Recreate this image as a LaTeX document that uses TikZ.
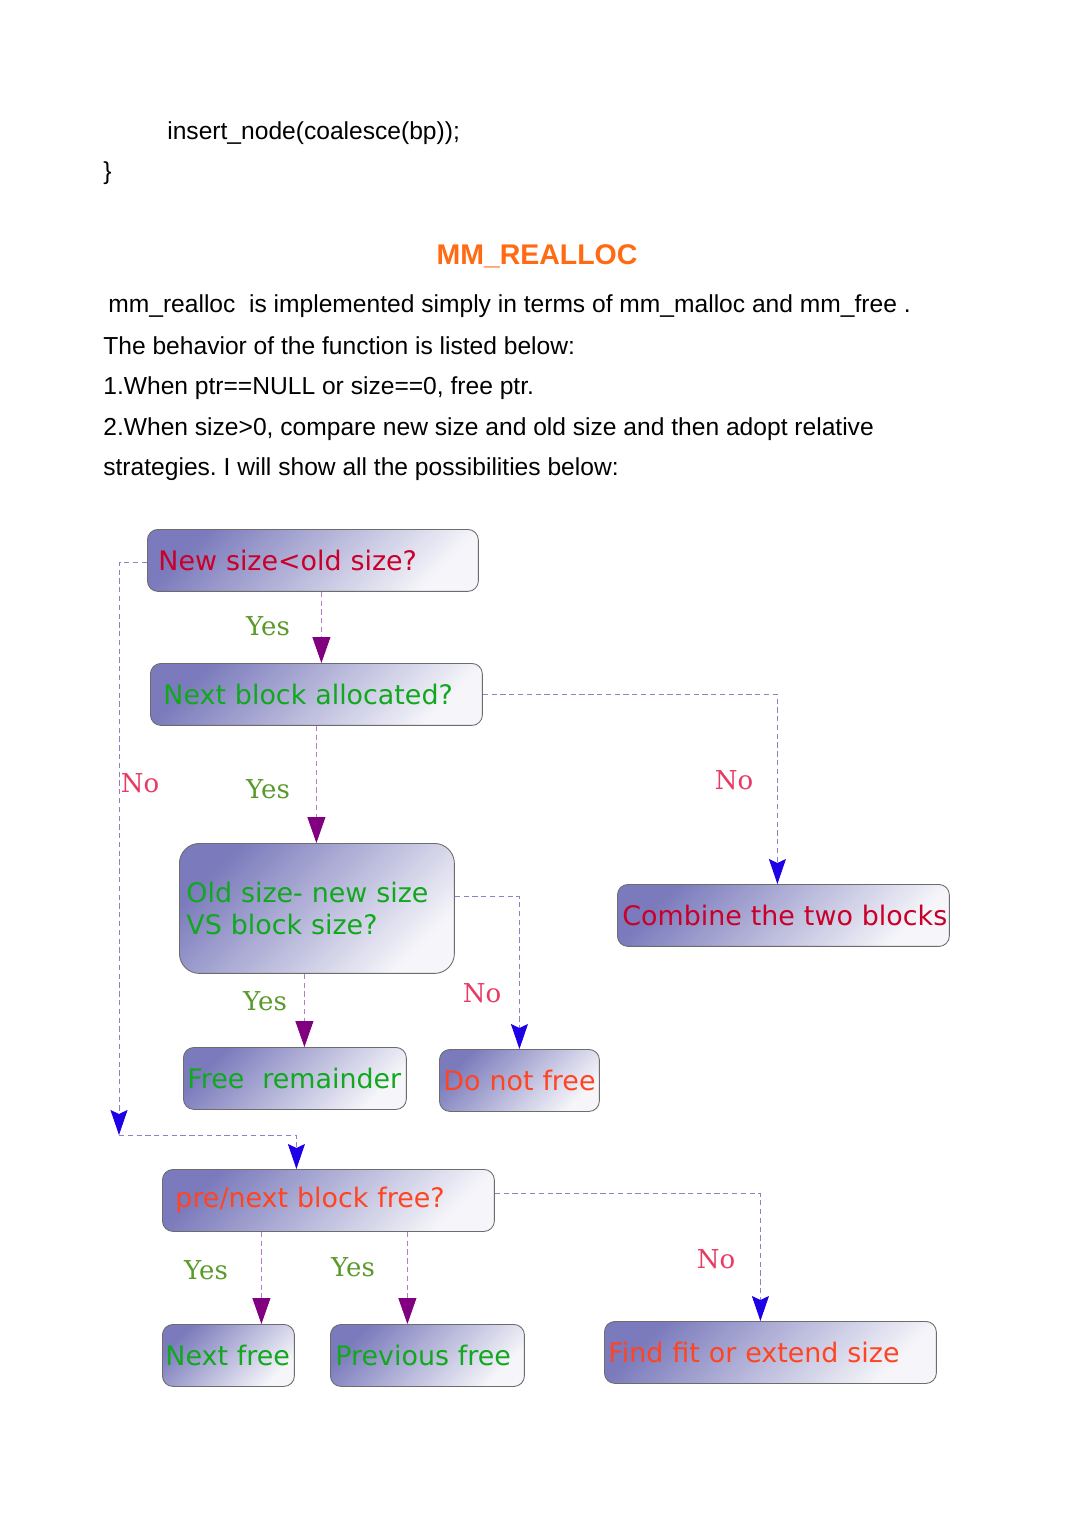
\documentclass[tikz,border=0pt]{standalone}
\usepackage{fontspec}
\setmainfont{Liberation Sans}
\newfontfamily\boxfont{DejaVu Sans}
\newfontfamily\ynfont{DejaVu Serif}
\usepackage{xcolor}
\usepackage{tikz}
\usetikzlibrary{arrows.meta}
\frenchspacing
\definecolor{titleorange}{HTML}{FF6A13}
\definecolor{crimson}{HTML}{C8002A}
\definecolor{boxgreen}{HTML}{11A81E}
\definecolor{redorange}{HTML}{FF4422}
\definecolor{yesgreen}{HTML}{5A9A2A}
\definecolor{nored}{HTML}{E83A62}
\definecolor{shadeL}{HTML}{7A7ABC}
\definecolor{shadeR}{HTML}{F6F6FA}
\definecolor{lilac}{HTML}{8C80CC}
\definecolor{mauve}{HTML}{B47CC8}
\definecolor{tipblue}{HTML}{1E00E6}
\definecolor{tippurple}{HTML}{800080}
\tikzset{
    blk/.style={draw=gray!85!black, line width=0.5pt, rounded corners=6pt,
        left color=shadeL, right color=shadeR, shading angle=45,
        anchor=north west, align=left, minimum height=1.24cm, inner ysep=0pt,
        font=\boxfont\fontsize{15.3}{18}\selectfont},
    body/.style={anchor=base west, inner sep=0pt, font=\fontsize{14}{17}\selectfont},
    yeslab/.style={inner sep=0pt, text=yesgreen, font=\ynfont\fontsize{14.8}{17}\selectfont},
    nolab/.style={inner sep=0pt, text=nored, font=\ynfont\fontsize{14.8}{17}\selectfont},
    link/.style={draw=lilac, line width=0.5pt, dash pattern=on 3pt off 2pt},
    yesln/.style={draw=mauve, line width=0.5pt, dash pattern=on 3pt off 2pt,
        -{Triangle[length=0.52cm,width=0.36cm,color=tippurple]}},
    noln/.style={link, -{Stealth[length=0.5cm,width=0.34cm,inset=0.08cm,color=tipblue]}}
}
\begin{document}
\begin{tikzpicture}[x=0.02cm, y=-0.02cm]
\useasboundingbox (0,0) rectangle (1074,1520);

% text above the chart
\node[body] (code1) at (167,140) {insert\_node(coalesce(bp));};
\node[body] (code2) at (103,180) {\}};
\node[anchor=base, inner sep=0pt, text=titleorange, font=\bfseries\fontsize{16.2}{19}\selectfont] (title) at (537,265) {MM\_REALLOC};
\node[body] (par1) at (108,313) {mm\_realloc\ \ is implemented simply in terms of mm\_malloc and mm\_free .};
\node[body] (par2) at (103,354) {The behavior of the function is listed below:};
\node[body] (par3) at (103,394) {1.When ptr==NULL or size==0, free ptr.};
\node[body] (par4) at (103,435) {2.When size>0, compare new size and old size and then adopt relative};
\node[body] (par5) at (103,475) {strategies. I will show all the possibilities below:};

% boxes
\node[blk, inner xsep=0.22cm, text width=6.18cm, text=crimson] (q1) at (147,529) {New size<old size?};
\node[blk, inner xsep=0.26cm, text width=6.12cm, text=boxgreen] (q2) at (150,663) {Next block allocated?};
\node[blk, inner xsep=0.14cm, text width=5.22cm, minimum height=2.6cm, rounded corners=0.4cm, text=boxgreen] (q3) at (179,843) {Old size- new size\\VS block size?};
\node[blk, inner xsep=0.1cm, text width=6.44cm, text=crimson] (q4) at (617,884) {\mbox{Combine the two blocks}};
\node[blk, inner xsep=0.08cm, text width=4.3cm, text=boxgreen] (q5) at (183,1047) {\mbox{Free\ \ remainder}};
\node[blk, inner xsep=0.08cm, text width=3.04cm, text=redorange] (q6) at (439,1049) {\mbox{Do not free}};
\node[blk, inner xsep=0.26cm, text width=6.12cm, text=redorange] (q7) at (162,1169) {pre/next block free?};
\node[blk, inner xsep=0.06cm, text width=2.52cm, text=boxgreen] (q8) at (162,1324) {\mbox{Next free}};
\node[blk, inner xsep=0.1cm, text width=3.68cm, text=boxgreen] (q9) at (330,1324) {Previous free};
\node[blk, inner xsep=0.08cm, text width=6.48cm, text=redorange] (q10) at (604,1321) {Find fit or extend size};

% connectors
\coordinate (jn) at (119,1135);
\draw[yesln] ([xshift=0.17cm]q1.south) -- ([xshift=0.17cm]q1.south |- q2.north);
\draw[noln] ([yshift=-0.04cm]q1.west) -| (jn);
\draw[noln] (jn) -| ([xshift=-0.64cm]q7.north);
\draw[yesln] (q2.south) -- (q2.south |- q3.north);
\draw[noln] (q2.east) -| ([xshift=-0.12cm]q4.north);
\draw[yesln] ([xshift=-0.25cm]q3.south) -- ([xshift=-0.25cm]q3.south |- q5.north);
\draw[noln] ([yshift=0.24cm]q3.east) -| (q6.north);
\draw[yesln] ([xshift=-1.34cm]q7.south) -- ([xshift=-1.34cm]q7.south |- q8.north);
\draw[yesln] ([xshift=1.58cm]q7.south) -- ([xshift=1.58cm]q7.south |- q9.north);
\draw[noln] ([yshift=0.14cm]q7.east) -| ([xshift=-0.2cm]q10.north);

% labels
\node[yeslab] (y1) at (268,626) {Yes};
\node[yeslab] (y2) at (268,789) {Yes};
\node[nolab] (n1) at (140,783) {No};
\node[nolab] (n2) at (734,780) {No};
\node[yeslab] (y3) at (265,1001) {Yes};
\node[nolab] (n3) at (482,993) {No};
\node[yeslab] (y4) at (206,1270) {Yes};
\node[yeslab] (y5) at (353,1267) {Yes};
\node[nolab] (n4) at (716,1259) {No};
\end{tikzpicture}
\end{document}
